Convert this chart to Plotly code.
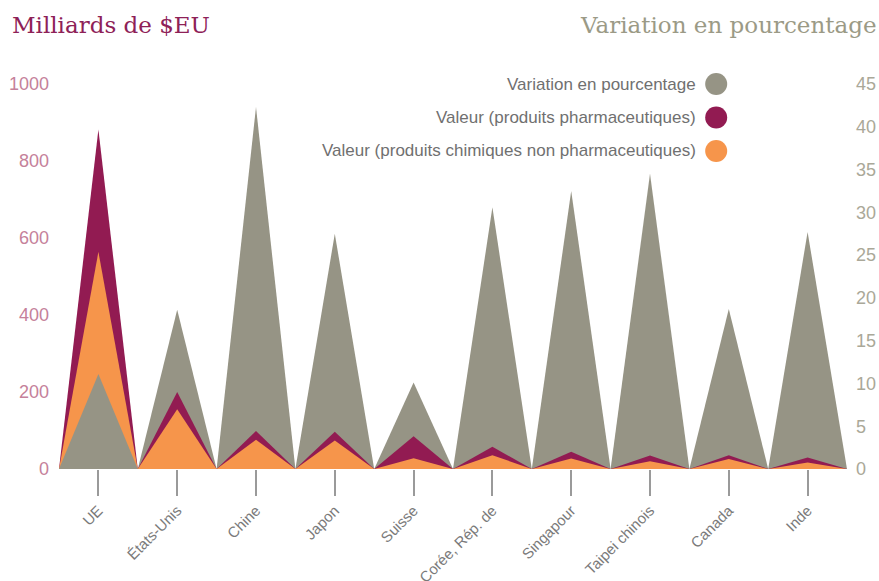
import plotly.graph_objects as go

# data
pays = ["UE", "États-Unis", "Chine", "Japon", "Suisse", "Corée, Rép. de",
        "Singapour", "Taipei chinois", "Canada", "Inde"]
non_pharma = [564, 155, 76, 74, 28, 36, 27, 20, 26, 17]   # milliards $EU
pharma = [318, 45, 23, 23, 57, 22, 18, 15, 10, 13]         # milliards $EU
variation = [11.1, 18.6, 42.3, 27.5, 10.1, 30.6, 32.5, 34.5, 18.7, 27.7]  # %

GRIS = "#969485"
VIOLET = "#921b52"
ORANGE = "#f6954b"
VMAX = 1000
PMAX = 45

fig = go.Figure()

def triangle(i, h, color, yaxis):
    fig.add_trace(go.Scatter(
        x=[i - 0.5, i, i + 0.5], y=[0, h, 0], yaxis=yaxis,
        mode="lines", fill="toself", fillcolor=color,
        line=dict(width=0), hoverinfo="skip", showlegend=False))

for i in range(len(pays)):
    total = non_pharma[i] + pharma[i]
    # smaller shape drawn in front
    if variation[i] / PMAX < non_pharma[i] / VMAX:
        ax = "y"
    else:
        ax = "y3"
    triangle(i, variation[i], GRIS, "y2")
    triangle(i, total, VIOLET, ax)
    triangle(i, non_pharma[i], ORANGE, ax)

fig.update_layout(
    width=879, height=581,
    margin=dict(l=59, r=32, t=84, b=112, autoexpand=False),
    plot_bgcolor="white", paper_bgcolor="white",
    showlegend=False,
    font=dict(family="Liberation Sans", color="#707070"),
    xaxis=dict(range=[-0.5, len(pays) - 0.5], tickmode="array",
               tickvals=list(range(len(pays))), ticktext=pays,
               tickangle=-45, ticks="outside", ticklen=26, tickwidth=1.5,
               tickcolor="#9a9a9a", showgrid=False, zeroline=False,
               showline=False, automargin=False,
               tickfont=dict(size=15, color="#7a7a7a")),
    yaxis=dict(range=[0, VMAX], tickvals=[0, 200, 400, 600, 800, 1000],
               showgrid=False, zeroline=False, showline=False,
               ticklabelstandoff=9, automargin=False,
               tickfont=dict(size=18, color="#c5819a")),
    yaxis2=dict(range=[0, PMAX], overlaying="y", side="right",
                tickvals=list(range(0, 50, 5)), showgrid=False,
                zeroline=False, showline=False, ticklabelstandoff=8,
                automargin=False,
                tickfont=dict(size=18, color="#aaa898")),
    yaxis3=dict(range=[0, VMAX], overlaying="y", visible=False,
                automargin=False),
)

# titles
fig.add_annotation(text="Milliards de $EU", xref="paper", yref="paper",
                   x=-0.062, y=1.153, xanchor="left", yanchor="middle",
                   showarrow=False,
                   font=dict(family="DejaVu Serif", size=23, color="#8e2157"))
fig.add_annotation(text="Variation en pourcentage", xref="paper", yref="paper",
                   x=1.041, y=1.153, xanchor="right", yanchor="middle",
                   showarrow=False,
                   font=dict(family="DejaVu Serif", size=23, color="#9b9a86"))

# legend with markers on the right
legende = [("Variation en pourcentage", GRIS),
           ("Valeur (produits pharmaceutiques)", VIOLET),
           ("Valeur (produits chimiques non pharmaceutiques)", ORANGE)]
for k, (nom, couleur) in enumerate(legende):
    yy = 1.0 - k * 0.087
    fig.add_annotation(text=nom, xref="paper", yref="paper", x=0.811, y=yy,
                       xanchor="right", yanchor="middle", showarrow=False,
                       font=dict(size=17, color="#707070"))
    fig.add_shape(type="circle", xref="paper", yref="paper",
                  xsizemode="pixel", ysizemode="pixel",
                  xanchor=0.834, yanchor=yy, x0=-11, x1=11, y0=-11, y1=11,
                  fillcolor=couleur, line=dict(width=0))

fig.write_html("out.html", config={"displayModeBar": False},
               post_script="document.body.style.margin='0';")
